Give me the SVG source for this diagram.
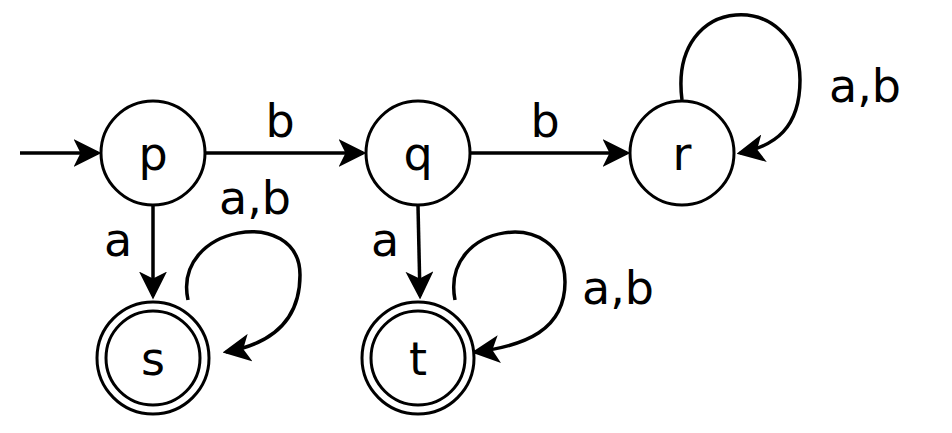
<svg xmlns="http://www.w3.org/2000/svg" width="952" height="433" viewBox="0 0 952 433">
<style>
.n{fill:#fff;stroke:#000;stroke-width:3}
.e{fill:none;stroke:#000;stroke-width:3.5}
text{font-family:"DejaVu Sans",sans-serif;font-size:46px;text-anchor:middle;fill:#000}
</style>
<defs><marker id="a" markerWidth="8" markerHeight="8" refX="7" refY="4" orient="auto" markerUnits="strokeWidth"><path d="M0,0L8,4L0,8L2,4z" fill="#000"/></marker></defs>
<rect width="952" height="433" fill="#fff"/>
<g id="edges">
<path class="e" d="M20,153H98" marker-end="url(#a)"/>
<path class="e" d="M206,153H363" marker-end="url(#a)"/>
<path class="e" d="M471,153H627" marker-end="url(#a)"/>
<path class="e" d="M153,206V296" marker-end="url(#a)"/>
<path class="e" d="M418,206L420,296" marker-end="url(#a)"/>
<path class="e" d="M188,300C172,225 300,205 300,275C300,325 265,345 226,352" marker-end="url(#a)"/>
<path class="e" d="M455,300C440,222 565,205 565,282C565,330 525,346 475,352" marker-end="url(#a)"/>
<path class="e" d="M682,100C668,-10 800,-10 800,80C800,128 775,146 740,153" marker-end="url(#a)"/>
<text x="280" y="137">b</text><text x="545" y="137">b</text>
<text x="118" y="256">a</text><text x="385" y="256">a</text>
<text x="255" y="214">a,b</text><text x="618" y="304">a,b</text><text x="865" y="102">a,b</text>
</g>
<g id="p"><circle class="n" cx="153" cy="153" r="52"/><text x="153" y="170">p</text></g>
<g id="q"><circle class="n" cx="418" cy="153" r="52"/><text x="418" y="170">q</text></g>
<g id="r"><circle class="n" cx="682" cy="153" r="52"/><text x="682" y="170">r</text></g>
<g id="s"><circle class="n" cx="153" cy="358" r="56"/><circle class="n" cx="153" cy="358" r="47"/><text x="153" y="375">s</text></g>
<g id="t"><circle class="n" cx="418" cy="358" r="56"/><circle class="n" cx="418" cy="358" r="47"/><text x="418" y="375">t</text></g>
</svg>
